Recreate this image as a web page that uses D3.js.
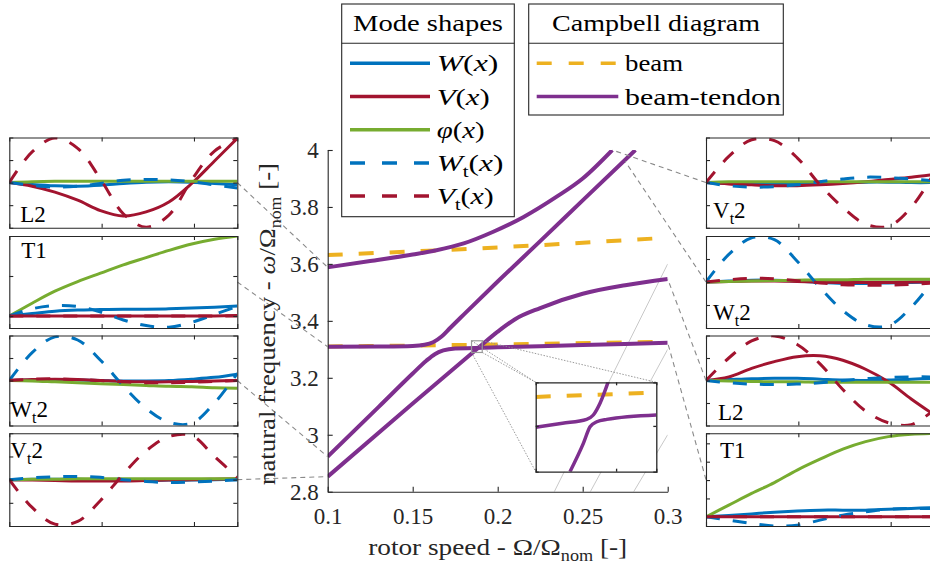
<!DOCTYPE html>
<html>
<head>
<meta charset="utf-8">
<script src="https://cdn.jsdelivr.net/npm/d3@7"></script>
<style>
body { margin: 0; background: #fff; }
svg text { font-family: "Liberation Serif", "DejaVu Serif", serif; }
</style>
</head>
<body>
<div id="chart"></div>
<script>
// Campbell diagram with mode shape panels

var svgWidth = 930;
var svgHeight = 570;
var axisColor = "#262626";

// ---------- Campbell diagram data ----------
var speedTicks = [0.1, 0.15, 0.2, 0.25, 0.3];
var freqTicks = [2.8, 3, 3.2, 3.4, 3.6, 3.8, 4];

// beam only (dashed)
var beamLow  = [[0.1, 3.310], [0.2, 3.317], [0.3, 3.327]];
var beamHigh = [[0.1, 3.631], [0.2, 3.658], [0.3, 3.692]];

// beam-tendon (solid)
var btTop   = [[0.1, 3.588], [0.125, 3.61], [0.15, 3.633], [0.164, 3.648], [0.18, 3.672], [0.1974, 3.713],
               [0.215, 3.764], [0.2347, 3.836], [0.25, 3.9], [0.2674, 4.0]];
var btSteep = [[0.1, 3.309], [0.13, 3.310], [0.15, 3.312], [0.157, 3.316], [0.162, 3.325], [0.167, 3.345],
               [0.172, 3.375], [0.18, 3.422], [0.2, 3.538], [0.225, 3.68], [0.25, 3.823], [0.281, 4.0]];
var btFlat  = [[0.1, 2.923], [0.13, 3.098], [0.15, 3.215], [0.158, 3.26], [0.163, 3.283], [0.168, 3.296],
               [0.175, 3.303], [0.2, 3.307], [0.25, 3.315], [0.3, 3.323]];
var btLow   = [[0.1, 2.853], [0.15, 3.11], [0.1876, 3.30], [0.2, 3.362], [0.21, 3.405], [0.225, 3.445],
               [0.25, 3.495], [0.275, 3.525], [0.3, 3.547]];

// excitation lines (light grey)
var harmonics = [
  [[0.2333, 2.8], [0.3, 3.6]],
  [[0.2545, 2.8], [0.3, 3.3]],
  [[0.28, 2.8], [0.3, 3.0]]
];

// zoomed region
var zoomX = [0.1846, 0.1909];
var zoomY = [3.289, 3.330];
var insetBeam  = [[0.1846, 3.3233], [0.1909, 3.3253]];
var insetUpper = [[0.1846, 3.3094], [0.1860, 3.3112], [0.18726, 3.3130], [0.18761, 3.3150], [0.18796, 3.3204], [0.18839, 3.3303]];
var insetLower = [[0.18639, 3.2890], [0.18709, 3.3020], [0.18744, 3.3096], [0.18779, 3.3119], [0.18831, 3.3130], [0.1909, 3.3150]];

// points on the diagram linked to the mode shape panels
var leftLinks  = [[0.1, 3.588], [0.1, 3.309], [0.1, 2.923], [0.1, 2.853]];
var rightLinks = [[0.2674, 4.0], [0.275, 3.96], [0.3, 3.547], [0.3, 3.323]];

// ---------- mode shape data: order W, V, phi, Wt, Vt ----------
var xi = [0, 0.1, 0.2, 0.3, 0.4, 0.5, 0.6, 0.7, 0.8, 0.9, 1];

var leftL2 = [
  [0, -0.04, -0.07, -0.08, -0.06, -0.02, 0.01, 0.02, 0.01, -0.02, -0.05],
  [0, -0.08, -0.21, -0.39, -0.62, -0.74, -0.65, -0.43, -0.02, 0.48, 0.98],
  [0, 0.02, 0.03, 0.03, 0.03, 0.03, 0.03, 0.03, 0.03, 0.03, 0.03],
  [0, -0.06, -0.1, -0.08, -0.02, 0.05, 0.07, 0.06, 0.02, -0.05, -0.12],
  [0, 0.68, 0.99, 0.76, 0.08, -0.69, -0.99, -0.72, 0.06, 0.7, 0.98]
];
var leftT1 = [
  [0, 0.03, 0.06, 0.075, 0.08, 0.085, 0.085, 0.09, 0.1, 0.11, 0.125],
  [0, 0, 0, 0, 0, 0, 0, 0, 0, 0, 0.005],
  [0, 0.16, 0.31, 0.43, 0.535, 0.64, 0.73, 0.82, 0.9, 0.96, 1.0],
  [0, 0.09, 0.13, 0.12, 0.05, -0.05, -0.12, -0.14, -0.08, 0.02, 0.12],
  [0, 0, 0, 0, 0, 0, 0, 0, 0, 0, 0]
];
var leftWt2 = [
  [0, 0.01, 0.02, 0.01, 0, -0.01, -0.01, 0, 0.03, 0.07, 0.14],
  [0, 0.02, 0.03, 0.02, 0, -0.02, -0.03, -0.03, -0.02, -0.01, 0],
  [0, -0.01, -0.03, -0.05, -0.07, -0.09, -0.11, -0.13, -0.14, -0.16, -0.17],
  [0, 0.62, 0.97, 0.9, 0.45, -0.12, -0.62, -0.93, -0.95, -0.5, 0.16],
  [0, 0.03, 0.04, 0.02, 0, -0.03, -0.05, -0.05, -0.04, -0.02, 0]
];
var leftVt2 = [
  [0, 0.01, 0.01, 0.01, 0, 0, -0.01, -0.01, -0.01, 0, 0],
  [0, -0.01, -0.02, -0.03, -0.03, -0.03, -0.02, -0.01, 0, 0.01, 0.02],
  [0, 0.01, 0.01, 0.02, 0.02, 0.02, 0.02, 0.02, 0.02, 0.02, 0.02],
  [0, 0.04, 0.06, 0.07, 0.05, 0, -0.04, -0.06, -0.05, -0.03, 0],
  [0, -0.6, -0.96, -0.9, -0.45, 0.12, 0.62, 0.93, 0.95, 0.5, 0.05]
];
var rightVt2 = [
  [0, -0.02, -0.03, -0.03, -0.02, -0.01, 0, 0.01, 0.01, 0, 0],
  [0, -0.03, -0.05, -0.07, -0.07, -0.05, -0.02, 0.02, 0.07, 0.12, 0.18],
  [0, 0.02, 0.02, 0.02, 0.02, 0.02, 0.02, 0.02, 0.02, 0.02, 0.02],
  [0, -0.07, -0.1, -0.09, -0.05, 0.02, 0.08, 0.12, 0.11, 0.08, 0.04],
  [0, 0.58, 0.95, 0.93, 0.55, -0.05, -0.55, -0.92, -0.97, -0.55, 0.2]
];
var rightWt2 = [
  [0, 0.02, 0.04, 0.04, 0.02, -0.01, -0.03, -0.03, -0.02, -0.01, 0],
  [0, 0.01, 0.02, 0.02, 0.01, 0, -0.01, -0.01, -0.01, 0, 0],
  [0, 0.01, 0.02, 0.03, 0.04, 0.05, 0.05, 0.06, 0.06, 0.06, 0.06],
  [0, 0.6, 0.96, 0.92, 0.45, -0.12, -0.62, -0.93, -0.95, -0.55, 0.05],
  [0, 0.05, 0.08, 0.07, 0.03, -0.02, -0.06, -0.07, -0.07, -0.05, -0.02]
];
var rightL2 = [
  [0, 0.02, 0.04, 0.05, 0.05, 0.03, 0.01, 0, 0.01, 0.03, 0.05],
  [0, 0.08, 0.27, 0.42, 0.53, 0.55, 0.45, 0.25, -0.03, -0.41, -0.76],
  [0, -0.01, -0.02, -0.03, -0.03, -0.04, -0.04, -0.04, -0.04, -0.04, -0.04],
  [0, -0.05, -0.08, -0.09, -0.08, -0.05, 0, 0.04, 0.07, 0.08, 0.08],
  [0, 0.5, 0.88, 0.99, 0.8, 0.37, -0.2, -0.68, -0.94, -0.98, -0.65]
];
var rightT1 = [
  [0, 0.015, 0.035, 0.055, 0.07, 0.08, 0.08, 0.08, 0.09, 0.1, 0.11],
  [0, 0, 0, 0, 0, 0, 0, 0, 0, 0, 0],
  [0, 0.14, 0.28, 0.41, 0.56, 0.69, 0.81, 0.9, 0.96, 0.99, 1.0],
  [0, -0.04, -0.08, -0.11, -0.1, -0.04, 0.02, 0.06, 0.09, 0.1, 0.1],
  [0, 0, 0, 0, 0, 0, 0, 0, 0, 0, 0]
];

var seriesColors = ["#0072BD", "#A2142F", "#77AC30", "#0072BD", "#A2142F"];
var seriesDashed = [false, false, false, true, true];

// ---------- layout ----------
var margin = { top: 150, left: 327.7 };
var width = 340;
var height = 341.7;

var svg = d3.select("#chart").append("svg")
  .attr("width", svgWidth)
  .attr("height", svgHeight);

svg.append("rect").attr("width", svgWidth).attr("height", svgHeight).attr("fill", "#fff");

var xScale = d3.scaleLinear().domain([0.1, 0.3]).range([0, width]);
var yScale = d3.scaleLinear().domain([2.8, 4]).range([height, 0]);

var chartGroup = svg.append("g")
  .attr("transform", `translate(${margin.left}, ${margin.top})`);

function stretchTo(sel, w) {
  sel.attr("textLength", w).attr("lengthAdjust", "spacingAndGlyphs");
}

function addParts(text, parts) {
  parts.forEach(function(p) {
    var ts = text.append("tspan").text(p.t);
    if (p.it) ts.style("font-style", "italic");
    if (p.sub) ts.attr("font-size", 16).attr("dy", 6);
    if (p.up) ts.attr("dy", -6);
  });
}

// ---------- mode shape panels ----------
var panelW = 228;
var panelTops = [137.5, 236, 335.5, 433.3];
var panelBots = [227.7, 328, 425.5, 526];
var panelX = d3.scaleLinear().domain([0, 1]).range([0, panelW]);

var leftPanels = [
  { data: leftL2, dom: [-1, 1], ticks: [-0.5, 0, 0.5], label: [{t: "L2"}], lx: 11, ly: -6, top: false },
  { data: leftT1, dom: [-0.15, 1], ticks: [0, 0.5], label: [{t: "T1"}], lx: 12, ly: 22, top: true },
  { data: leftWt2, dom: [-1, 1], ticks: [-0.5, 0, 0.5], label: [{t: "W"}, {t: "t", sub: true}, {t: "2", up: true}], lx: 1, ly: -9, top: false },
  { data: leftVt2, dom: [-1, 1], ticks: [-0.5, 0, 0.5], label: [{t: "V"}, {t: "t", sub: true}, {t: "2", up: true}], lx: 1, ly: 25, top: true }
];
var rightPanels = [
  { data: rightVt2, dom: [-1, 1], ticks: [-0.5, 0, 0.5], label: [{t: "V"}, {t: "t", sub: true}, {t: "2", up: true}], lx: 7, ly: -10, top: false },
  { data: rightWt2, dom: [-1, 1], ticks: [-0.5, 0, 0.5], label: [{t: "W"}, {t: "t", sub: true}, {t: "2", up: true}], lx: 7, ly: -8, top: false },
  { data: rightL2, dom: [-1, 1], ticks: [-0.5, 0, 0.5], label: [{t: "L2"}], lx: 12, ly: -6, top: false },
  { data: rightT1, dom: [-0.11, 1], ticks: [0.22, 0.44, 0.66, 0.88], label: [{t: "T1"}], lx: 14, ly: 25, top: true }
];

function drawPanel(x0, i, p, side) {
  var top = panelTops[i], bot = panelBots[i], h = bot - top;
  var ys = d3.scaleLinear().domain(p.dom).range([h, 0]);
  var g = svg.append("g").attr("transform", `translate(${x0}, ${top})`);
  var id = "clip" + side + i;
  g.append("clipPath").attr("id", id).append("rect").attr("width", panelW).attr("height", h);
  g.append("rect").attr("width", panelW).attr("height", h).attr("fill", "#fff");

  var line = d3.line()
    .x(function(d, k) { return panelX(xi[k]); })
    .y(function(d) { return ys(d); })
    .curve(d3.curveCatmullRom.alpha(0.5));

  var lines = g.append("g").attr("clip-path", `url(#${id})`);
  p.data.forEach(function(s, k) {
    lines.append("path")
      .attr("d", line(s))
      .attr("fill", "none")
      .attr("stroke", seriesColors[k])
      .attr("stroke-width", 3)
      .attr("stroke-dasharray", seriesDashed[k] ? "14,13" : null);
  });

  var axes = [
    g.append("g").attr("transform", `translate(0, ${h})`).call(d3.axisBottom(panelX).tickValues([0.405, 0.81]).tickSize(-4).tickFormat("")),
    g.append("g").call(d3.axisTop(panelX).tickValues([0.405, 0.81]).tickSize(-4).tickFormat("")),
    g.append("g").call(d3.axisLeft(ys).tickValues(p.ticks).tickSize(-4).tickFormat("")),
    g.append("g").attr("transform", `translate(${panelW}, 0)`).call(d3.axisRight(ys).tickValues(p.ticks).tickSize(-4).tickFormat(""))
  ];
  axes.forEach(function(a) {
    a.selectAll("path, line").attr("stroke", axisColor).attr("stroke-width", 1.1);
  });

  var lab = g.append("text")
    .attr("x", p.lx)
    .attr("y", p.top ? p.ly : h + p.ly)
    .attr("font-size", 23)
    .attr("fill", "#000");
  addParts(lab, p.label);
}

// ---------- connectors (drawn first) ----------
var linkG = svg.append("g");
var leftAnchors = panelTops.map(function(t, i) { return [9.3 + panelW, (t + panelBots[i]) / 2]; });
var rightAnchors = panelTops.map(function(t, i) { return [706, (t + panelBots[i]) / 2]; });

function linkLine(a, pt) {
  linkG.append("line")
    .attr("x1", a[0]).attr("y1", a[1])
    .attr("x2", margin.left + xScale(pt[0])).attr("y2", margin.top + yScale(pt[1]))
    .attr("stroke", "#8a8a8a").attr("stroke-width", 1.1)
    .attr("stroke-dasharray", "5,4");
}
leftLinks.forEach(function(pt, i) { linkLine(leftAnchors[i], pt); });
rightLinks.forEach(function(pt, i) { linkLine(rightAnchors[i], pt); });

leftPanels.forEach(function(p, i) { drawPanel(9.3, i, p, "L"); });
rightPanels.forEach(function(p, i) { drawPanel(706, i, p, "R"); });

// ---------- main Campbell diagram ----------
var curveLine = d3.line()
  .x(function(d) { return xScale(d[0]); })
  .y(function(d) { return yScale(d[1]); })
  .curve(d3.curveMonotoneX);

chartGroup.append("clipPath").attr("id", "mainClipLocal")
  .append("rect").attr("width", width).attr("height", height);
var plotArea = chartGroup.append("g").attr("clip-path", "url(#mainClipLocal)");

harmonics.forEach(function(h) {
  plotArea.append("path").attr("d", curveLine(h))
    .attr("fill", "none").attr("stroke", "#c8c8c8").attr("stroke-width", 1);
});

[beamLow, beamHigh].forEach(function(b) {
  plotArea.append("path").attr("d", curveLine(b))
    .attr("fill", "none").attr("stroke", "#EDB120").attr("stroke-width", 4)
    .attr("stroke-dasharray", "15,16");
});

[btTop, btSteep, btFlat, btLow].forEach(function(c) {
  plotArea.append("path").attr("d", curveLine(c))
    .attr("fill", "none").attr("stroke", "#7E2F8E").attr("stroke-width", 4);
});

// axes
var leftAxis = d3.axisLeft(yScale).tickValues(freqTicks).tickSizeInner(-5).tickSizeOuter(0).tickPadding(9).tickFormat(function(d) { return d; });
var bottomAxis = d3.axisBottom(xScale).tickValues(speedTicks).tickSizeInner(-5).tickSizeOuter(0).tickPadding(16).tickFormat(function(d) { return d; });

var yAxisG = chartGroup.append("g").call(leftAxis);
var xAxisG = chartGroup.append("g").attr("transform", `translate(0, ${height})`).call(bottomAxis);
[yAxisG, xAxisG].forEach(function(a) {
  a.attr("font-family", null).attr("font-size", 23);
  a.selectAll("path, line").attr("stroke", axisColor).attr("stroke-width", 1.1);
  a.selectAll("text").attr("fill", axisColor);
});

// zoom box and inset
var zx0 = xScale(zoomX[0]), zx1 = xScale(zoomX[1]);
var zy0 = yScale(zoomY[1]), zy1 = yScale(zoomY[0]);
chartGroup.append("rect")
  .attr("x", zx0).attr("y", zy0).attr("width", zx1 - zx0).attr("height", zy1 - zy0)
  .attr("fill", "none").attr("stroke", "#999").attr("stroke-width", 1.2);

var inset = { x: 535.7 - margin.left, y: 382.3 - margin.top, w: 120.6, h: 89.4 };
var corners = [[zx0, zy0, inset.x, inset.y], [zx1, zy0, inset.x + inset.w, inset.y],
               [zx1, zy1, inset.x, inset.y], [zx0, zy1, inset.x, inset.y + inset.h]];
corners.forEach(function(c) {
  chartGroup.append("line")
    .attr("x1", c[0]).attr("y1", c[1]).attr("x2", c[2]).attr("y2", c[3])
    .attr("stroke", "#8f8f8f").attr("stroke-width", 0.9).attr("stroke-dasharray", "1.5,1.5");
});

var insetG = chartGroup.append("g").attr("transform", `translate(${inset.x}, ${inset.y})`);
var ix = d3.scaleLinear().domain(zoomX).range([0, inset.w]);
var iy = d3.scaleLinear().domain(zoomY).range([inset.h, 0]);
insetG.append("clipPath").attr("id", "insetClip").append("rect").attr("width", inset.w).attr("height", inset.h);
insetG.append("rect").attr("width", inset.w).attr("height", inset.h).attr("fill", "#fff");
var insetLine = d3.line().x(function(d) { return ix(d[0]); }).y(function(d) { return iy(d[1]); }).curve(d3.curveMonotoneX);
var insetPlot = insetG.append("g").attr("clip-path", "url(#insetClip)");
insetPlot.append("path").attr("d", insetLine(insetBeam)).attr("fill", "none")
  .attr("stroke", "#EDB120").attr("stroke-width", 4).attr("stroke-dasharray", "15,16");
[insetUpper, insetLower].forEach(function(c) {
  insetPlot.append("path").attr("d", insetLine(c)).attr("fill", "none")
    .attr("stroke", "#7E2F8E").attr("stroke-width", 3.5);
});
[
  insetG.append("g").attr("transform", `translate(0, ${inset.h})`).call(d3.axisBottom(ix).tickValues([0.1888]).tickSize(-3).tickFormat("")),
  insetG.append("g").call(d3.axisTop(ix).tickValues([0.1888]).tickSize(-3).tickFormat("")),
  insetG.append("g").call(d3.axisLeft(iy).tickValues([3.31]).tickSize(-3).tickFormat("")),
  insetG.append("g").attr("transform", `translate(${inset.w}, 0)`).call(d3.axisRight(iy).tickValues([3.31]).tickSize(-3).tickFormat(""))
].forEach(function(a) {
  a.selectAll("path, line").attr("stroke", axisColor).attr("stroke-width", 1.3);
});

// axis labels
var xLabel = svg.append("text")
  .attr("x", margin.left + width / 2).attr("y", 555)
  .attr("text-anchor", "middle").attr("font-size", 24).attr("fill", axisColor);
addParts(xLabel, [{t: "rotor speed - Ω/Ω"}, {t: "nom", sub: true}, {t: " [-]", up: true}]);
stretchTo(xLabel, 259);

var yLabel = svg.append("text")
  .attr("transform", "translate(275, 324) rotate(-90)")
  .attr("text-anchor", "middle").attr("font-size", 24).attr("fill", axisColor);
addParts(yLabel, [{t: "natural frequency - "}, {t: "ω", it: true}, {t: "/Ω"}, {t: "nom", sub: true}, {t: " [-]", up: true}]);
stretchTo(yLabel, 322);

// ---------- legends ----------
function drawLegend(x, y, w, h, title, titleW, entries, lineX0, lineX1, textX) {
  var g = svg.append("g");
  g.append("rect").attr("x", x).attr("y", y).attr("width", w).attr("height", h)
    .attr("fill", "#fff").attr("stroke", axisColor).attr("stroke-width", 1.1);
  g.append("line").attr("x1", x).attr("x2", x + w).attr("y1", 43.3).attr("y2", 43.3)
    .attr("stroke", axisColor).attr("stroke-width", 1.1);
  var t = g.append("text").attr("x", x + w / 2).attr("y", 31).attr("text-anchor", "middle")
    .attr("font-size", 24).attr("fill", "#000").text(title);
  stretchTo(t, titleW);
  entries.forEach(function(e, i) {
    var ry = 63.3 + i * 33.2;
    g.append("line").attr("x1", lineX0).attr("x2", lineX1).attr("y1", ry).attr("y2", ry)
      .attr("stroke", e.color).attr("stroke-width", 3.5)
      .attr("stroke-dasharray", e.dashed ? "15,17" : null);
    var tx = g.append("text").attr("x", textX).attr("y", ry + 8).attr("font-size", 24).attr("fill", "#000");
    addParts(tx, e.parts);
    stretchTo(tx, e.w);
  });
}

drawLegend(341.7, 4, 172.6, 212.7, "Mode shapes", 150, [
  { color: seriesColors[0], dashed: false, w: 61.6, parts: [{t: "W", it: true}, {t: "("}, {t: "x", it: true}, {t: ")"}] },
  { color: seriesColors[1], dashed: false, w: 53, parts: [{t: "V", it: true}, {t: "("}, {t: "x", it: true}, {t: ")"}] },
  { color: seriesColors[2], dashed: false, w: 48, parts: [{t: "φ", it: true}, {t: "("}, {t: "x", it: true}, {t: ")"}] },
  { color: seriesColors[3], dashed: true, w: 66.7, parts: [{t: "W", it: true}, {t: "t", sub: true}, {t: "(", up: true}, {t: "x", it: true}, {t: ")"}] },
  { color: seriesColors[4], dashed: true, w: 57, parts: [{t: "V", it: true}, {t: "t", sub: true}, {t: "(", up: true}, {t: "x", it: true}, {t: ")"}] }
], 350, 430, 436.7);

drawLegend(528.7, 4, 254.6, 111, "Campbell diagram", 208, [
  { color: "#EDB120", dashed: true, w: 58, parts: [{t: "beam"}] },
  { color: "#7E2F8E", dashed: false, w: 156, parts: [{t: "beam-tendon"}] }
], 536.7, 618.3, 625);
</script>
</body>
</html>
